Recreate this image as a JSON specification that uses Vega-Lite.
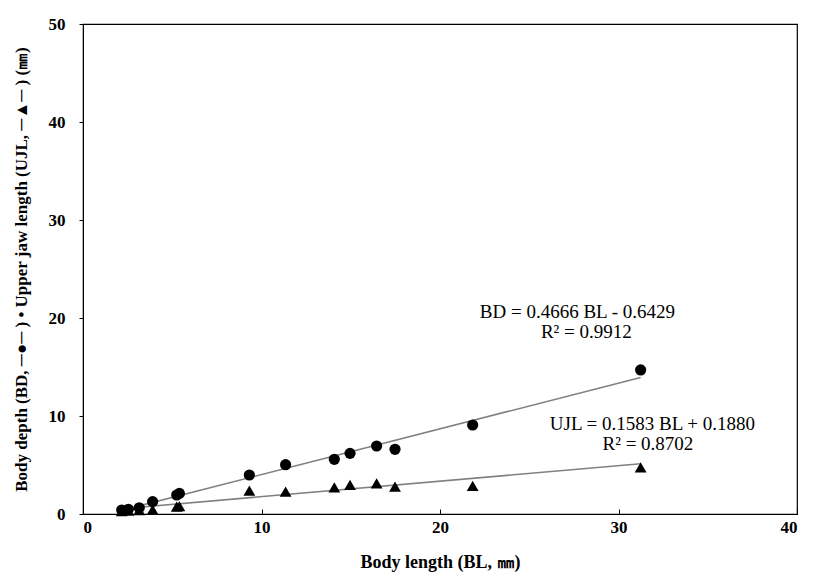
{
  "$schema": "https://vega.github.io/schema/vega-lite/v6.json",
  "autosize": "none",
  "width": 714,
  "height": 490,
  "padding": {"left": 83, "top": 24, "right": 30, "bottom": 66},
  "background": "white",
  "config": {
    "view": {"stroke": "black", "strokeWidth": 1.2},
    "font": "Liberation Serif"
  },
  "datasets": {
    "pts": [
      {"BL": 2.17, "value": 0.41, "series": "BD"},
      {"BL": 2.54, "value": 0.48, "series": "BD"},
      {"BL": 3.15, "value": 0.64, "series": "BD"},
      {"BL": 3.9, "value": 1.26, "series": "BD"},
      {"BL": 5.25, "value": 1.94, "series": "BD"},
      {"BL": 5.4, "value": 2.1, "series": "BD"},
      {"BL": 9.32, "value": 3.98, "series": "BD"},
      {"BL": 11.35, "value": 5.03, "series": "BD"},
      {"BL": 14.08, "value": 5.58, "series": "BD"},
      {"BL": 14.96, "value": 6.19, "series": "BD"},
      {"BL": 16.45, "value": 6.94, "series": "BD"},
      {"BL": 17.48, "value": 6.6, "series": "BD"},
      {"BL": 21.83, "value": 9.08, "series": "BD"},
      {"BL": 31.24, "value": 14.7, "series": "BD"},
      {"BL": 2.17, "value": 0.3, "series": "UJL"},
      {"BL": 2.54, "value": 0.35, "series": "UJL"},
      {"BL": 3.15, "value": 0.4, "series": "UJL"},
      {"BL": 3.9, "value": 0.45, "series": "UJL"},
      {"BL": 5.25, "value": 0.75, "series": "UJL"},
      {"BL": 5.4, "value": 0.8, "series": "UJL"},
      {"BL": 9.32, "value": 2.38, "series": "UJL"},
      {"BL": 11.35, "value": 2.28, "series": "UJL"},
      {"BL": 14.08, "value": 2.72, "series": "UJL"},
      {"BL": 14.96, "value": 2.96, "series": "UJL"},
      {"BL": 16.45, "value": 3.13, "series": "UJL"},
      {"BL": 17.48, "value": 2.79, "series": "UJL"},
      {"BL": 21.83, "value": 2.86, "series": "UJL"},
      {"BL": 31.24, "value": 4.76, "series": "UJL"}
    ],
    "fits": [
      {"BL": 2.17, "value": 0.37, "series": "BD"},
      {"BL": 31.24, "value": 13.93, "series": "BD"},
      {"BL": 2.17, "value": 0.53, "series": "UJL"},
      {"BL": 31.24, "value": 5.13, "series": "UJL"}
    ],
    "labels": [
      {"BL": 27.7, "value": 20.6, "label": "BD = 0.4666  BL - 0.6429"},
      {"BL": 28.2, "value": 18.55, "label": "R² = 0.9912"},
      {"BL": 31.9, "value": 9.2, "label": "UJL = 0.1583 BL + 0.1880"},
      {"BL": 31.65, "value": 7.15, "label": "R² = 0.8702"}
    ]
  },
  "encoding": {
    "x": {
      "field": "BL", "type": "quantitative",
      "scale": {"domain": [0, 40], "nice": false},
      "axis": {
        "title": "Body length (BL, ㎜)",
        "values": [0, 10, 20, 30, 40],
        "grid": false,
        "domainColor": "black", "tickColor": "black",
        "tickSize": -5,
        "labelFont": "Liberation Serif", "labelFontWeight": "bold", "labelFontSize": 17, "labelColor": "black",
        "labelPadding": 10,
        "titleFont": "Liberation Serif", "titleFontWeight": "bold", "titleFontSize": 18, "titleColor": "black",
        "titlePadding": 18
      }
    },
    "y": {
      "field": "value", "type": "quantitative",
      "scale": {"domain": [0, 50], "nice": false},
      "axis": {
        "title": "Body depth (BD, ─●─ ) • Upper jaw length (UJL, ─▲─ ) (㎜)",
        "values": [0, 10, 20, 30, 40, 50],
        "grid": false,
        "domainColor": "black", "tickColor": "black",
        "tickSize": 4,
        "labelFont": "Liberation Serif", "labelFontWeight": "bold", "labelFontSize": 17, "labelColor": "black",
        "labelPadding": 14,
        "titleFont": "Liberation Serif", "titleFontWeight": "bold", "titleFontSize": 17, "titleColor": "black",
        "titlePadding": 18
      }
    }
  },
  "layer": [
    {
      "data": {"name": "fits"},
      "mark": {"type": "line", "color": "#808080", "strokeWidth": 1.6},
      "encoding": {"detail": {"field": "series"}}
    },
    {
      "data": {"name": "pts"},
      "transform": [{"filter": "datum.series === 'BD'"}],
      "mark": {"type": "point", "shape": "circle", "filled": true, "color": "black", "opacity": 1, "size": 125}
    },
    {
      "data": {"name": "pts"},
      "transform": [{"filter": "datum.series === 'UJL'"}],
      "mark": {"type": "point", "shape": "triangle-up", "filled": true, "color": "black", "opacity": 1, "size": 140}
    },
    {
      "data": {"name": "labels"},
      "mark": {"type": "text", "font": "Liberation Serif", "fontSize": 19, "color": "black", "align": "center", "baseline": "middle"},
      "encoding": {"text": {"field": "label"}}
    }
  ]
}
